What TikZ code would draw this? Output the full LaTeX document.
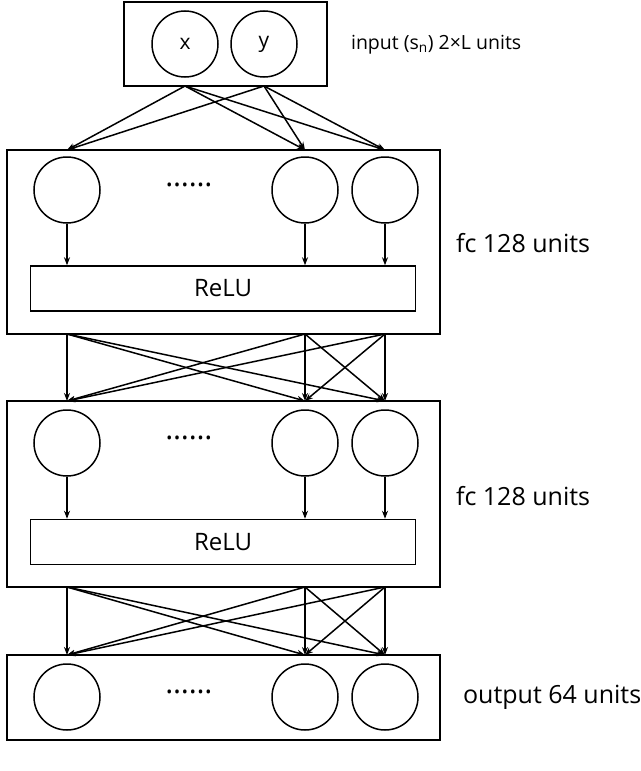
\documentclass[tikz,border=0pt]{standalone}
\usepackage{fontspec}
\setmainfont{Open Sans}
\usetikzlibrary{arrows.meta, positioning}
\begin{document}
\begin{tikzpicture}[x=1pt, y=-1pt, -{Stealth[length=8pt,width=6pt]},
  line width=1.5pt,
  unit/.style = {circle, draw, minimum size=66pt, inner sep=0pt, font=\fontsize{21}{25}\selectfont},
  layer/.style = {draw, -},
  lbl/.style = {anchor=west, font=\fontsize{25}{29}\selectfont}]
\useasboundingbox (0,0) rectangle (640,771);
% input layer
\draw[layer] (124,2) rectangle (327,86);
\node[unit] (X) at (185,44) {x};
\node[unit] (Y) at (264,44) {y};
\coordinate (Xo) at (185,86);
\coordinate (Yo) at (264,86);
\node[lbl, font=\fontsize{19.5}{23}\selectfont] (Lin) at (347,45) {input (s\textsubscript{n}) 2×L units};
% hidden layers
\foreach \k/\top/\cy/\rt/\rb/\bot in {1/150/190/266/311/334, 2/401/443/519/565/587} {
  \draw[layer] (7,\top) rectangle (440,\bot);
  \node[unit] (A\k) at (67,\cy) {};
  \node[unit] (B\k) at (305,\cy) {};
  \node[unit] (C\k) at (385,\cy) {};
  \node (D\k) at (189,\cy-5) {\fontsize{30}{34}\selectfont ……};
  \node[draw, minimum width=385pt, minimum height=45pt, inner sep=0pt,
        font=\fontsize{24}{28}\selectfont] (R\k) at (223,\rt/2+\rb/2) {ReLU};
  \draw (A\k) -- (A\k |- R\k.north);
  \draw (B\k) -- (B\k |- R\k.north);
  \draw (C\k) -- (C\k |- R\k.north);
  \node[lbl] (L\k) at (452,\cy+53) {fc 128 units};
  \coordinate (A\k i) at (67,\top);
  \coordinate (B\k i) at (305,\top);
  \coordinate (C\k i) at (385,\top);
  \coordinate (A\k o) at (67,\bot);
  \coordinate (B\k o) at (305,\bot);
  \coordinate (C\k o) at (385,\bot);
}
% output layer
\draw[layer] (7,655) rectangle (440,740);
\node[unit] (A3) at (67,697) {};
\node[unit] (B3) at (305,697) {};
\node[unit] (C3) at (385,697) {};
\node (D3) at (189,692) {\fontsize{30}{34}\selectfont ……};
\node[lbl] (L3) at (459,697) {output 64 units};
\coordinate (A3i) at (67,655);
\coordinate (B3i) at (305,655);
\coordinate (C3i) at (385,655);
% connections
\foreach \s in {Xo,Yo}
  \foreach \t in {A1i,B1i,C1i}
    \draw (\s) -- (\t);
\foreach \s in {A1o,B1o,C1o}
  \foreach \t in {A2i,B2i,C2i}
    \draw (\s) -- (\t);
\foreach \s in {A2o,B2o,C2o}
  \foreach \t in {A3i,B3i,C3i}
    \draw (\s) -- (\t);
\end{tikzpicture}
\end{document}
